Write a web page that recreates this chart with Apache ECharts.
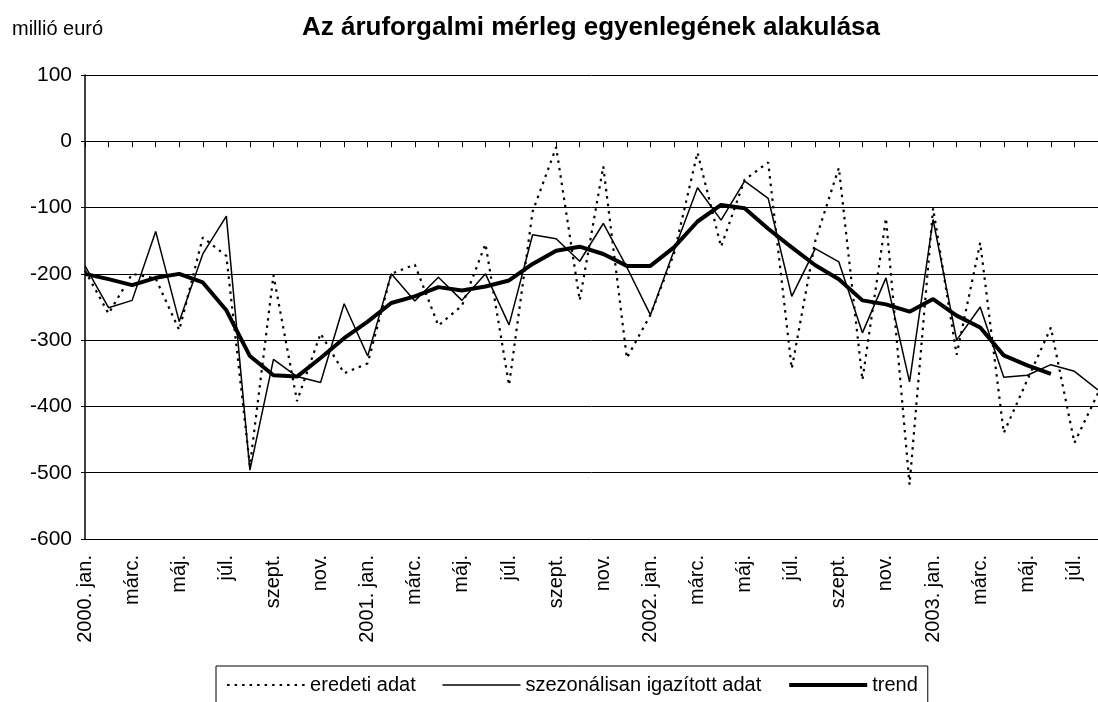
<!DOCTYPE html>
<html>
<head>
<meta charset="utf-8">
<script src="https://cdn.jsdelivr.net/npm/echarts@6/dist/echarts.min.js"></script>
<style>
  html, body { margin: 0; padding: 0; background: #fff; }
  #chart { width: 1098px; height: 702px; }
</style>
</head>
<body>
<div id="chart"></div>
<script>
  // hónapok 2000. jan. - 2003. aug. (az utolsó már kilóg a képből)
  var months = [
    '2000. jan.', 'febr.', 'márc.', 'ápr.', 'máj.', 'jún.', 'júl.', 'aug.', 'szept.', 'okt.', 'nov.', 'dec.',
    '2001. jan.', 'febr.', 'márc.', 'ápr.', 'máj.', 'jún.', 'júl.', 'aug.', 'szept.', 'okt.', 'nov.', 'dec.',
    '2002. jan.', 'febr.', 'márc.', 'ápr.', 'máj.', 'jún.', 'júl.', 'aug.', 'szept.', 'okt.', 'nov.', 'dec.',
    '2003. jan.', 'febr.', 'márc.', 'ápr.', 'máj.', 'jún.', 'júl.', 'aug.'
  ];

  var eredeti = [
    -195, -260, -200, -207, -285, -145, -173, -490, -202, -392, -290, -350,
    -335, -200, -186, -278, -248, -155, -368, -106, -9, -240, -38, -327,
    -262, -170, -17, -159, -58, -32, -343, -150, -40, -360, -116, -518,
    -101, -322, -153, -440, -360, -281, -455, -380
  ];

  var szezonalis = [
    -188, -251, -240, -136, -272, -170, -113, -496, -329, -355, -364, -245,
    -324, -200, -241, -205, -240, -200, -277, -141, -147, -181, -124, -190,
    -262, -165, -70, -119, -60, -86, -234, -162, -182, -289, -206, -363,
    -118, -300, -250, -356, -353, -337, -347, -375
  ];

  var trend = [
    -200, -208, -217, -206, -200, -213, -255, -324, -353, -355, -327, -297,
    -272, -244, -234, -220, -225, -219, -210, -185, -165, -159, -170, -188,
    -188, -160, -121, -96, -101, -132, -160, -187, -208, -240, -246, -257,
    -238, -263, -281, -323, -338, -351
  ];

  var yTicks = { min: -600, max: 100, step: 100 };

  var font = 'Arial, "Liberation Sans", sans-serif';

  var chart = echarts.init(document.getElementById('chart'));

  var option = {
    backgroundColor: '#fff',
    animation: false,
    textStyle: { fontFamily: font, color: '#000' },
    title: [
      {
        text: 'millió euró',
        left: 7,
        top: 14,
        textStyle: { fontSize: 20, fontWeight: 'normal', color: '#000', fontFamily: font }
      },
      {
        text: 'Az áruforgalmi mérleg egyenlegének alakulása',
        left: 297,
        top: 10,
        textStyle: { fontSize: 26, fontWeight: 'bold', color: '#000', fontFamily: font }
      }
    ],
    legend: {
      left: 216,
      top: 666,
      padding: [9, 10, 30, 10],
      borderColor: '#000',
      borderWidth: 1,
      itemWidth: 78,
      itemHeight: 14,
      itemGap: 26,
      itemStyle: { opacity: 0 },
      textStyle: { fontSize: 20, color: '#000', fontFamily: font },
      data: [
        { name: 'eredeti adat', lineStyle: { color: '#000', width: 2.2, type: [2.5, 5] } },
        { name: 'szezonálisan igazított adat', lineStyle: { color: '#000', width: 1.5, type: 'solid' } },
        { name: 'trend', lineStyle: { color: '#000', width: 4, type: 'solid' } }
      ]
    },
    grid: {
      left: 85,
      top: 75,
      width: 1026,
      height: 464
    },
    xAxis: [
      {
        // feliratok alul
        type: 'category',
        data: months,
        boundaryGap: false,
        position: 'bottom',
        axisLine: { show: false, onZero: false },
        axisTick: { show: false },
        splitLine: { show: false },
        axisLabel: {
          interval: 1,
          rotate: 90,
          margin: 16,
          fontSize: 20,
          color: '#000',
          fontFamily: font
        }
      },
      {
        // tengely a 0-nál, havi osztásokkal
        type: 'category',
        data: months,
        boundaryGap: false,
        position: 'bottom',
        axisLine: { show: true, onZero: true, lineStyle: { color: '#000', width: 1 } },
        axisTick: { show: true, interval: 0, length: 6, lineStyle: { color: '#000' } },
        axisLabel: { show: false },
        splitLine: { show: false }
      }
    ],
    yAxis: {
      type: 'value',
      min: yTicks.min,
      max: yTicks.max,
      interval: yTicks.step,
      axisLine: { show: true, lineStyle: { color: '#000', width: 1.5 } },
      axisTick: { show: true, length: 4, lineStyle: { color: '#000' } },
      splitLine: { show: true, lineStyle: { color: '#000', width: 1 } },
      axisLabel: { fontSize: 21, color: '#000', margin: 13, fontFamily: font }
    },
    series: [
      {
        name: 'eredeti adat',
        type: 'line',
        data: eredeti,
        symbol: 'none',
        lineStyle: { color: '#000', width: 2.2, type: [2.5, 5] },
        itemStyle: { color: '#000' },
        z: 2
      },
      {
        name: 'szezonálisan igazított adat',
        type: 'line',
        data: szezonalis,
        symbol: 'none',
        lineStyle: { color: '#000', width: 1.5 },
        itemStyle: { color: '#000' },
        z: 3
      },
      {
        name: 'trend',
        type: 'line',
        data: trend,
        symbol: 'none',
        lineStyle: { color: '#000', width: 4 },
        itemStyle: { color: '#000' },
        z: 4
      }
    ]
  };

  chart.setOption(option);
</script>
</body>
</html>
